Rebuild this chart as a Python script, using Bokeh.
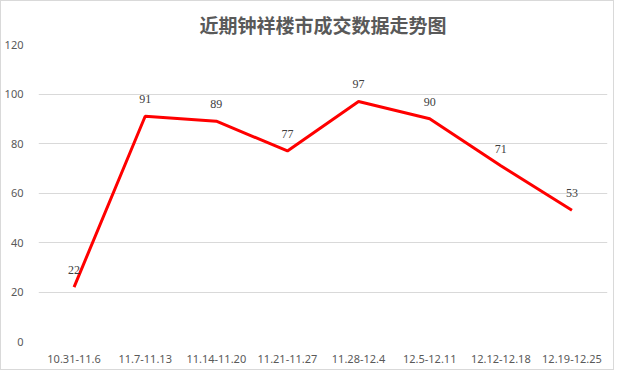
from bokeh.plotting import figure
from bokeh.models import ColumnDataSource, LabelSet, FactorRange, Range1d, FixedTicker
from bokeh.embed import file_html
from bokeh.resources import INLINE

title_text = "近期钟祥楼市成交数据走势图"
categories = ["10.31-11.6", "11.7-11.13", "11.14-11.20", "11.21-11.27",
              "11.28-12.4", "12.5-12.11", "12.12-12.18", "12.19-12.25"]
values = [22, 91, 89, 77, 97, 90, 71, 53]
y_ticks = [0, 20, 40, 60, 80, 100, 120]

src = ColumnDataSource(dict(x=categories, y=values, lbl=[str(v) for v in values]))

p = figure(width=614, height=370, output_backend="svg", toolbar_location=None,
           x_range=FactorRange(*categories, range_padding=0),
           y_range=Range1d(0, 120),
           min_border_left=29, min_border_right=8, min_border_bottom=30, min_border_top=10)
p.title.text = title_text
p.title.align = "center"
p.title.text_font = "Noto Sans CJK SC"
p.title.text_font_size = "19px"
p.title.text_font_style = "bold"
p.title.text_color = "#595959"
p.title.offset = 0
p.title.standoff = 14

p.line("x", "y", source=src, line_color="#ff0000", line_width=3)
labels = LabelSet(x="x", y="y", text="lbl", source=src, text_align="center",
                  text_baseline="middle", y_offset=17, text_font_size="12px",
                  text_font="Noto Sans", text_color="#404040")
p.add_layout(labels)

p.yaxis.ticker = FixedTicker(ticks=y_ticks)
for ax in (p.xaxis, p.yaxis):
    ax.axis_line_color = None
    ax.major_tick_line_color = None
    ax.minor_tick_line_color = None
    ax.major_label_text_font = "Noto Sans"
    ax.major_label_text_font_size = "11px"
    ax.major_label_text_color = "#595959"
p.yaxis.major_label_standoff = 9
p.xaxis.major_label_standoff = 7
p.xgrid.grid_line_color = None
p.ygrid.grid_line_color = "#d9d9d9"
p.outline_line_color = None
p.styles = {"border": "1px solid #d9d9d9"}

open("out.html", "w").write(file_html(p, INLINE))
